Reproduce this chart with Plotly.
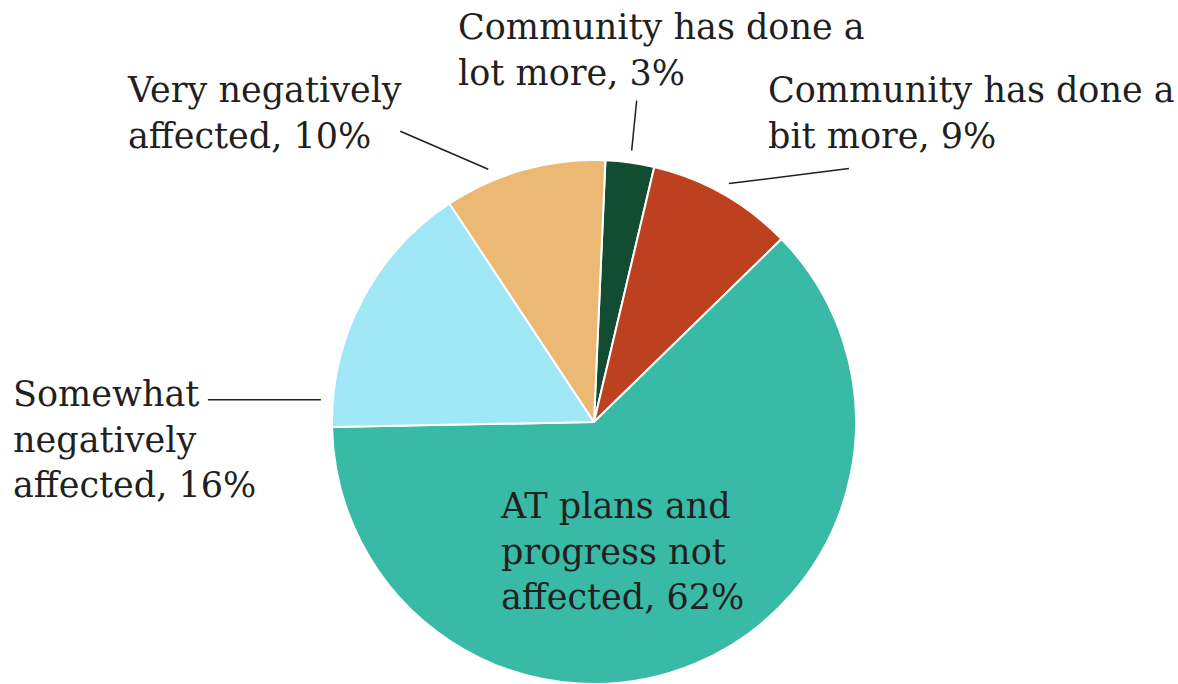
import math
import plotly.graph_objects as go

# Survey answers, clockwise from the top of the pie
labels = [
    "Community has done a lot more",
    "Community has done a bit more",
    "AT plans and progress not affected",
    "Somewhat negatively affected",
    "Very negatively affected",
]
label_text = [
    "Community has done a<br>lot more",
    "Community has done a<br>bit more",
    "AT plans and<br>progress not<br>affected",
    "Somewhat<br>negatively<br>affected",
    "Very negatively<br>affected",
]
values = [3, 9, 62, 16, 10]
colors = ["#124C31", "#BE411F", "#38BAA6", "#A0E8F6", "#ECB975"]

W, H = 1178, 684
FONT = "DejaVu Serif"
FONT_SIZE = 35
TEXT_COLOR = "#231F20"
ROTATION = 2.5

# pie placement (pixels from the top-left corner)
CX, CY, R = 594.0, 422.0, 262.0
dom_x = [(CX - 300) / W, (CX + 300) / W]
dom_y = [1 - (CY + R) / H, 1 - (CY - R) / H]

fig = go.Figure(
    go.Pie(
        labels=labels,
        values=values,
        sort=False,
        direction="clockwise",
        rotation=ROTATION,
        marker=dict(colors=colors, line=dict(color="white", width=2)),
        textinfo="none",
        hoverinfo="label+percent",
        showlegend=False,
        domain=dict(x=dom_x, y=dom_y),
    )
)


def px(x, y):
    return x / W, 1 - y / H


# slice angles (degrees clockwise from 12 o'clock)
total = sum(values)
starts, spans = [], []
acc = ROTATION
for v in values:
    starts.append(acc)
    spans.append(360 * v / total)
    acc += 360 * v / total

# label layout: text box (left, top) in px, leader (fraction along slice, tail offset)
label_pos = {
    0: dict(x=456, y=5),
    1: dict(x=766, y=68),
    2: dict(x=498, y=484),
    3: dict(x=11, y=372),
    4: dict(x=125, y=68),
}
leaders = {
    0: (0.5, 5, -50),
    1: (0.5, 120, -15),
    3: (0.1, -113, 0),
    4: (0.3, -88, -38),
}

for i, (txt, v) in enumerate(zip(label_text, values)):
    lx, ly = px(label_pos[i]["x"], label_pos[i]["y"])
    fig.add_annotation(
        x=lx, y=ly, xref="paper", yref="paper",
        xanchor="left", yanchor="top", align="left",
        text=f"{txt}, {v}%", showarrow=False,
        font=dict(family=FONT, size=FONT_SIZE, color=TEXT_COLOR),
    )

for i, (frac, dx, dy) in leaders.items():
    ang = math.radians(starts[i] + frac * spans[i])
    hr = R + 12
    hx = CX + hr * math.sin(ang)
    hy = CY - hr * math.cos(ang)
    x0, y0 = px(hx, hy)
    x1, y1 = px(hx + dx, hy + dy)
    fig.add_shape(
        type="line", xref="paper", yref="paper",
        x0=x0, y0=y0, x1=x1, y1=y1,
        line=dict(color=TEXT_COLOR, width=1.5),
    )

fig.update_layout(
    width=W, height=H,
    margin=dict(l=0, r=0, t=0, b=0),
    paper_bgcolor="white",
    plot_bgcolor="white",
)

fig.write_html("out.html")
